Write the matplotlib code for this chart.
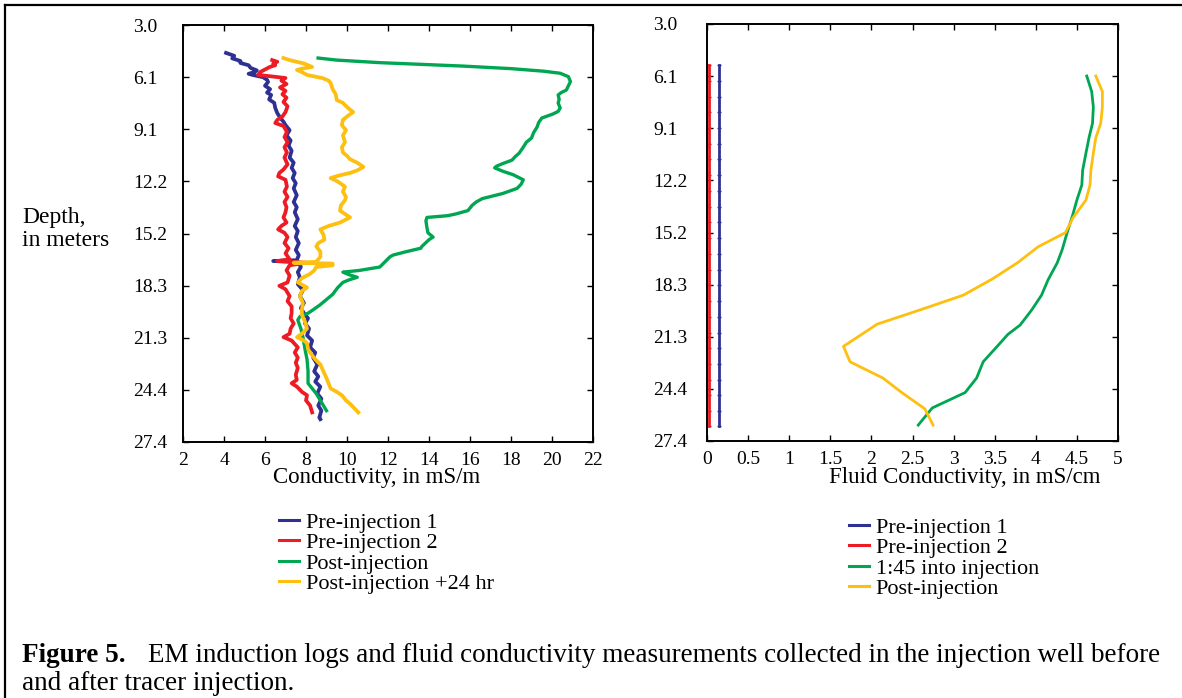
import matplotlib
matplotlib.use("Agg")
import matplotlib.pyplot as plt
from matplotlib.lines import Line2D

plt.rcParams["font.family"] = ["Liberation Serif", "DejaVu Serif"]

# --- данные: левая панель (EM-каротаж, mS/m по глубине, м) ---
pre1_depth = [4.68, 4.85, 5.0, 5.15, 5.27, 5.4, 5.56, 5.7, 5.8, 5.9,
              5.97, 6.1, 6.25, 6.38, 6.6, 6.8, 7.0, 7.14, 7.4, 7.6,
              7.9, 8.2, 8.49, 8.7, 8.9, 9.2, 9.5, 9.8, 10.1, 10.4,
              10.8, 11.1, 11.4, 11.7, 12.0, 12.3, 12.6, 13.0, 13.4, 13.7,
              14.0, 14.4, 14.8, 15.1, 15.45, 15.8, 16.2, 16.5, 16.8, 16.85,
              16.9, 17.2, 17.5, 17.8, 18.2, 18.55, 18.9, 19.3, 19.6, 19.9,
              20.2, 20.5, 20.8, 21.2, 21.5, 21.9, 22.2, 22.5, 22.9, 23.3,
              23.6, 23.9, 24.2, 24.6, 24.9, 25.3, 25.6, 26.0, 26.1]
pre1_cond = [4.1, 4.5, 4.4, 4.8, 4.8, 5.2, 5.3, 5.6, 5.5, 5.2,
             5.4, 5.9, 6.1, 6.15, 6.0, 6.25, 6.1, 6.3, 6.2, 6.45,
             6.5, 6.6, 6.75, 6.9, 7.0, 7.2, 7.05, 7.25, 7.15, 7.3,
             7.2, 7.4, 7.3, 7.45, 7.35, 7.5, 7.4, 7.55, 7.4, 7.55,
             7.45, 7.6, 7.45, 7.6, 7.5, 7.65, 7.5, 7.65, 7.55, 6.4,
             7.6, 7.75, 7.6, 7.7, 7.6, 7.85, 7.7, 7.9, 7.75, 7.9,
             8.1, 7.95, 8.15, 8.05, 8.3, 8.2, 8.45, 8.35, 8.55, 8.4,
             8.6, 8.45, 8.7, 8.55, 8.75, 8.6, 8.75, 8.65, 8.7]

pre2_depth = [5.1, 5.2, 5.3, 5.4, 5.5, 5.65, 5.8, 5.97, 6.05, 6.15,
              6.3, 6.5, 6.7, 6.9, 7.1, 7.3, 7.55, 7.8, 8.14, 8.4,
              8.6, 8.78, 8.95, 9.3, 9.6, 9.9, 10.2, 10.5, 10.8, 11.2,
              11.5, 11.7, 11.9, 12.1, 12.5, 12.8, 13.1, 13.4, 13.7, 14.0,
              14.3, 14.6, 14.8, 15.0, 15.2, 15.45, 15.8, 16.1, 16.4, 16.75,
              16.85, 16.95, 17.1, 17.4, 17.7, 18.1, 18.3, 18.5, 18.9, 19.2,
              19.5, 19.9, 20.2, 20.5, 20.8, 21.1, 21.3, 21.5, 21.9, 22.2,
              22.5, 22.8, 23.1, 23.5, 23.8, 24.0, 24.2, 24.5, 24.7, 25.0,
              25.3, 25.7]
pre2_cond = [6.35, 6.6, 6.4, 6.5, 6.24, 6.0, 5.76, 5.66, 6.3, 7.0,
             6.8, 7.05, 6.73, 7.0, 6.85, 7.05, 6.9, 7.1, 7.0, 6.85,
             6.6, 6.5, 6.9, 7.07, 6.95, 7.1, 6.95, 7.07, 6.95, 7.1,
             6.9, 6.7, 6.64, 7.0, 7.07, 6.95, 7.1, 6.95, 7.05, 7.0,
             6.9, 7.05, 6.8, 6.64, 6.95, 7.1, 6.95, 7.15, 7.0, 7.2,
             6.6, 8.0, 7.2, 7.05, 7.2, 7.1, 6.7, 7.0, 7.2, 7.1,
             7.3, 7.3, 7.25, 7.4, 7.25, 7.2, 6.9, 7.3, 7.6, 7.45,
             7.6, 7.5, 7.6, 7.5, 7.55, 7.3, 7.56, 7.8, 8.05, 8.0,
             8.2, 8.3]

post_depth = [4.98, 5.1, 5.25, 5.45, 5.6, 5.75, 5.87, 6.07, 6.36, 6.6,
              6.85, 7.0, 7.14, 7.4, 7.61, 7.9, 8.1, 8.25, 8.49, 8.75,
              9.02, 9.35, 9.66, 9.9, 10.19, 10.54, 10.75, 10.95, 11.15, 11.3,
              11.4, 11.6, 11.8, 12.1, 12.35, 12.6, 12.9, 13.2, 13.4, 13.6,
              13.9, 14.1, 14.2, 14.3, 14.5, 14.9, 15.2, 15.45, 15.6, 16.0,
              16.1, 16.3, 16.5, 16.6, 16.9, 17.2, 17.4, 17.5, 17.65, 17.8,
              17.95, 18.1, 18.4, 18.8, 19.1, 19.4, 19.7, 19.9, 20.1, 20.3,
              20.8, 21.3, 22.0, 22.6, 23.3, 24.0, 24.3, 24.6, 25.1, 25.6]
post_cond = [8.59, 9.5, 11.6, 15.66, 18.0, 19.6, 20.4, 20.8, 20.9, 20.8,
             20.7, 20.45, 20.3, 20.35, 20.3, 20.4, 20.3, 20.05, 19.5, 19.35,
             19.27, 19.1, 19.0, 18.75, 18.6, 18.4, 18.2, 18.05, 17.6, 17.3,
             17.2, 17.6, 18.1, 18.6, 18.5, 18.3, 17.6, 16.6, 16.3, 16.1,
             15.9, 15.3, 14.9, 13.9, 13.85, 13.9, 13.95, 14.2, 14.0, 13.65,
             13.6, 12.9, 12.25, 12.1, 11.85, 11.6, 10.6, 9.8, 10.1, 10.5,
             10.1, 9.8, 9.55, 9.3, 9.0, 8.7, 8.35, 8.1, 7.7, 7.6,
             7.75, 7.85, 7.95, 8.05, 8.1, 8.1, 8.3, 8.5, 8.75, 9.0]

post24_depth = [4.98, 5.1, 5.3, 5.5, 5.6, 5.68, 5.8, 5.97, 6.15, 6.3,
                6.44, 6.8, 7.1, 7.44, 7.6, 7.73, 7.95, 8.14, 8.4, 8.6,
                8.9, 9.2, 9.5, 9.9, 10.2, 10.5, 10.7, 10.9, 11.1, 11.35,
                11.55, 11.7, 11.85, 12.0, 12.2, 12.5, 12.8, 13.1, 13.3, 13.6,
                13.9, 14.1, 14.3, 14.45, 14.6, 14.8, 15.0, 15.3, 15.6, 15.8,
                16.0, 16.3, 16.6, 16.9, 16.95, 17.0, 17.1, 17.2, 17.4, 17.6,
                17.85, 18.1, 18.4, 18.6, 18.9, 19.3, 19.7, 20.0, 20.4, 20.8,
                21.1, 21.3, 21.5, 21.65, 22.0, 22.2, 22.6, 22.9, 23.3, 23.7,
                24.0, 24.3, 24.5, 24.7, 25.0, 25.2, 25.45, 25.7]
post24_cond = [6.9, 7.2, 7.9, 8.3, 7.8, 7.56, 7.8, 8.05, 8.8, 9.1,
               9.2, 9.3, 9.45, 9.5, 9.8, 9.9, 10.1, 10.3, 10.0, 9.8,
               9.75, 9.95, 9.8, 9.9, 9.75, 9.8, 10.0, 10.15, 10.5, 10.8,
               10.5, 10.15, 9.6, 9.2, 9.55, 9.9, 9.8, 9.95, 9.9, 9.7,
               9.66, 9.9, 10.15, 9.9, 9.66, 9.1, 8.7, 8.85, 8.9, 8.6,
               8.5, 8.7, 8.7, 8.5, 7.4, 9.3, 9.3, 8.5, 8.4, 8.2,
               7.8, 7.6, 8.05, 7.8, 7.7, 7.85, 7.8, 7.8, 7.95, 8.05,
               7.8, 7.56, 7.9, 8.05, 8.1, 8.2, 8.45, 8.7, 8.85, 9.0,
               9.1, 9.2, 9.5, 9.75, 9.95, 10.15, 10.35, 10.55]

# --- данные: правая панель (проводимость флюида, mS/cm) ---
fl_pre_depth = [5.45, 6.37, 7.29, 8.21, 9.13, 10.05, 10.97, 11.89, 12.81, 13.73,
                14.65, 15.57, 16.49, 17.41, 18.33, 19.25, 20.17, 21.09, 22.01, 22.93,
                23.85, 24.77, 25.69, 26.55]
fl_pre1 = [0.14, 0.14, 0.14, 0.14, 0.14, 0.14, 0.14, 0.14, 0.14, 0.14,
           0.14, 0.14, 0.14, 0.14, 0.14, 0.14, 0.14, 0.14, 0.14, 0.14,
           0.14, 0.14, 0.14, 0.14]
fl_pre2 = [0.03, 0.03, 0.03, 0.03, 0.03, 0.03, 0.03, 0.03, 0.03, 0.03,
           0.03, 0.03, 0.03, 0.03, 0.03, 0.03, 0.03, 0.03, 0.03, 0.03,
           0.03, 0.03, 0.03, 0.03]

fl_inj_depth = [6.09, 7.0, 7.9, 8.85, 9.64, 10.6, 11.6, 12.46, 13.34, 14.2,
                15.27, 16.26, 17.02, 18.0, 18.9, 19.77, 20.65, 21.2, 21.9, 22.8,
                23.75, 24.6, 25.5, 26.5]
fl_inj = [4.62, 4.68, 4.70, 4.69, 4.65, 4.61, 4.57, 4.56, 4.50, 4.45,
          4.38, 4.32, 4.26, 4.15, 4.07, 3.95, 3.81, 3.66, 3.53, 3.36,
          3.28, 3.14, 2.74, 2.57]

fl_post_depth = [6.09, 7.0, 7.9, 8.85, 9.7, 10.6, 11.6, 12.46, 13.34, 14.4,
                 15.25, 16.07, 17.0, 17.96, 18.9, 19.77, 20.6, 21.9, 22.8, 23.75,
                 24.6, 25.55, 26.5]
fl_post = [4.73, 4.81, 4.81, 4.79, 4.73, 4.70, 4.67, 4.66, 4.61, 4.45,
           4.36, 4.03, 3.78, 3.47, 3.12, 2.59, 2.07, 1.66, 1.74, 2.14,
           2.37, 2.65, 2.75]

depth_ticks = [3.048, 6.096, 9.144, 12.192, 15.24, 18.288, 21.336, 24.384, 27.432]
depth_labels = ["3.0", "6.1", "9.1", "12.2", "15.2", "18.3", "21.3", "24.4", "27.4"]
em_ticks = [2, 4, 6, 8, 10, 12, 14, 16, 18, 20, 22]
fl_ticks = [0, 0.5, 1, 1.5, 2, 2.5, 3, 3.5, 4, 4.5, 5]
fl_labels = ["0", "0.5", "1", "1.5", "2", "2.5", "3", "3.5", "4", "4.5", "5"]

BLUE, RED, GREEN, YELLOW = "#2e3192", "#ed1c24", "#00a651", "#fdc010"
W, H = 1182, 698

fig = plt.figure(figsize=(W / 100, H / 100), dpi=100)
ax1 = fig.add_axes([183 / W, 1 - 442 / H, 410 / W, 417 / H])
ax2 = fig.add_axes([707 / W, 1 - 441 / H, 411 / W, 417 / H])

lw = 2.7
ax1.plot(pre1_cond, pre1_depth, color=BLUE, lw=lw, label="Pre-injection 1")
ax1.plot(pre2_cond, pre2_depth, color=RED, lw=lw, label="Pre-injection 2")
ax1.plot(post_cond, post_depth, color=GREEN, lw=2.4, label="Post-injection")
ax1.plot(post24_cond, post24_depth, color=YELLOW, lw=lw, label="Post-injection +24 hr")

lw2 = 2.0
ax2.plot(fl_pre1, fl_pre_depth, color=BLUE, lw=lw2, marker="_", ms=3, label="Pre-injection 1")
ax2.plot(fl_pre2, fl_pre_depth, color=RED, lw=lw2, marker="_", ms=3, label="Pre-injection 2")
ax2.plot(fl_inj, fl_inj_depth, color=GREEN, lw=lw2, label="1:45 into injection")
ax2.plot(fl_post, fl_post_depth, color=YELLOW, lw=lw2, label="Post-injection")

for ax, xt, xr, ypad in ((ax1, em_ticks, (2, 22), 36), (ax2, fl_ticks, (0, 5), 38.5)):
    ax.set_xlim(*xr)
    ax.set_ylim(depth_ticks[-1], depth_ticks[0])
    ax.set_xticks(xt)
    ax.set_yticks(depth_ticks)
    ax.set_yticklabels(depth_labels)
    ax.tick_params(direction="in", length=4, width=1, top=True, right=True,
                   labelsize=14, colors="black")
    ax.tick_params(axis="x", pad=7)
    ax.tick_params(axis="y", pad=ypad)
    for t in ax.get_yticklabels():
        t.set_horizontalalignment("left")
    for s in ax.spines.values():
        s.set_linewidth(1.4)
ax2.set_xticklabels(fl_labels)

fig.text(377 / W, 1 - 478 / H, "Conductivity, in mS/m", ha="center", va="center", fontsize=16.5)
fig.text(965 / W, 1 - 478 / H, "Fluid Conductivity, in mS/cm", ha="center", va="center",
         fontsize=16.5)
fig.text(22 / W, 1 - 229 / H, "Depth,\nin meters", ha="left", va="center", fontsize=17,
         linespacing=1.1)

leg_kw = dict(frameon=False, fontsize=16, handlelength=0.9, handletextpad=0.3,
              labelspacing=0.0, borderpad=0, borderaxespad=0)
h1, l1 = ax1.get_legend_handles_labels()
h1 = [Line2D([], [], color=h.get_color(), lw=2.2) for h in h1]
fig.legend(h1, l1, loc="upper left", bbox_to_anchor=(279 / W, 1 - 512 / H), **leg_kw)
h2, l2 = ax2.get_legend_handles_labels()
h2 = [Line2D([], [], color=h.get_color(), lw=2.2) for h in h2]
fig.legend(h2, l2, loc="upper left", bbox_to_anchor=(849 / W, 1 - 517 / H), **leg_kw)

fig.text(22 / W, 1 - 656 / H, "Figure 5.", fontweight="bold", fontsize=19.5, va="center")
fig.text(148 / W, 1 - 656 / H,
         "EM induction logs and fluid conductivity measurements collected in the injection well before",
         fontsize=19.5, va="center")
fig.text(22 / W, 1 - 683 / H, "and after tracer injection.", fontsize=19.5, va="center")

# рамка рисунка (верх и левый край)
fig.add_artist(Line2D([5 / W, 1], [1 - 5 / H, 1 - 5 / H], color="black", lw=1.6,
                      transform=fig.transFigure))
fig.add_artist(Line2D([5 / W, 5 / W], [0, 1 - 5 / H], color="black", lw=1.6,
                      transform=fig.transFigure))

fig.savefig("out.png", dpi=100)
